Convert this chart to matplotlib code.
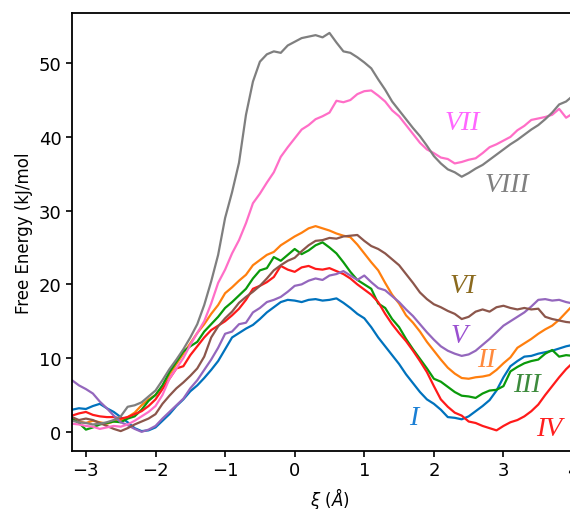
import numpy as np
import matplotlib
matplotlib.use("Agg")
import matplotlib.pyplot as plt

# reaction coordinate grid (Angstrom)
xi = np.round(np.arange(-3.2, 4.21, 0.1), 1)

fe_I = [3.0, 3.2, 3.1, 3.5, 3.8, 3.2, 2.7, 2.0, 1.3, 0.5,
        0.1, 0.2, 0.6, 1.5, 2.4, 3.5, 4.4, 5.5, 6.3, 7.3,
        8.4, 9.6, 11.2, 12.8, 13.4, 14.0, 14.5, 15.3, 16.2, 16.9,
        17.6, 17.9, 17.8, 17.6, 17.9, 18.0, 17.8, 17.9, 18.1, 17.5,
        16.8, 16.0, 15.4, 14.2, 12.8, 11.6, 10.4, 9.2, 7.8, 6.6,
        5.4, 4.4, 3.8, 3.0, 2.0, 1.9, 1.7, 2.1, 2.8, 3.5,
        4.3, 5.6, 7.4, 8.9, 9.6, 10.2, 10.3, 10.6, 10.8, 11.0,
        11.3, 11.6, 11.8, 12.0, 12.1]
fe_II = [1.6, 1.4, 1.2, 1.5, 1.3, 1.1, 1.4, 1.6, 2.0, 2.6,
         3.6, 4.4, 5.0, 6.2, 7.8, 9.2, 10.6, 12.0, 13.4, 14.6,
         16.0, 17.2, 18.8, 19.6, 20.5, 21.3, 22.6, 23.3, 24.0, 24.4,
         25.3, 25.9, 26.5, 27.0, 27.6, 27.9, 27.6, 27.3, 26.9, 26.6,
         26.4, 25.4, 24.2, 23.0, 21.9, 20.2, 18.6, 17.4, 15.8, 14.8,
         13.6, 12.2, 11.0, 9.8, 8.7, 7.9, 7.3, 7.2, 7.4, 7.5,
         7.7, 8.4, 9.3, 10.1, 11.4, 12.0, 12.6, 13.3, 13.9, 14.4,
         15.2, 16.2, 17.2, 17.8, 18.4]
fe_III = [1.8, 1.2, 0.3, 0.6, 1.0, 1.2, 1.4, 1.3, 1.8, 2.1,
          3.0, 4.2, 5.0, 6.3, 8.1, 9.5, 10.9, 11.6, 12.2, 13.6,
          14.6, 15.6, 16.8, 17.6, 18.5, 19.4, 20.8, 21.9, 22.2, 23.7,
          23.2, 24.0, 24.8, 24.1, 24.6, 25.3, 25.7, 25.0, 24.2, 23.0,
          21.7, 20.6, 20.0, 19.4, 17.4, 16.8, 15.3, 14.2, 12.6, 11.2,
          9.9, 8.6, 7.2, 6.8, 6.1, 5.4, 4.9, 4.8, 4.6, 5.2,
          5.6, 5.7, 6.2, 8.2, 8.8, 9.3, 9.6, 9.8, 10.6, 11.1,
          10.2, 10.4, 10.3, 10.6, 10.8]
fe_IV = [2.2, 2.5, 2.7, 2.3, 2.1, 2.0, 2.0, 1.8, 2.0, 2.4,
         2.8, 3.5, 4.4, 5.8, 7.2, 8.6, 8.9, 10.4, 11.6, 12.8,
         13.8, 14.4, 15.0, 15.8, 16.7, 17.9, 19.4, 19.8, 20.3, 21.0,
         22.5, 22.0, 21.7, 22.3, 22.5, 22.1, 22.0, 22.2, 21.8, 21.4,
         20.8, 20.0, 19.3, 18.6, 17.6, 16.0, 14.6, 13.4, 12.3, 11.0,
         9.6, 8.1, 6.2, 4.4, 3.4, 2.6, 2.2, 1.4, 1.2, 0.8,
         0.5, 0.2, 0.8, 1.3, 1.6, 2.1, 2.8, 3.7, 5.0, 6.2,
         7.4, 8.5, 9.4, 10.2, 10.8]
fe_V = [7.0, 6.3, 5.8, 5.2, 4.1, 3.2, 2.2, 1.3, 0.9, 0.4,
        0.0, 0.3, 0.8, 1.8, 2.7, 3.6, 4.5, 5.9, 7.0, 8.4,
        9.8, 11.4, 13.3, 13.6, 14.6, 14.8, 16.2, 16.8, 17.6, 17.9,
        18.3, 19.0, 19.8, 20.0, 20.5, 20.8, 20.6, 21.2, 21.4, 21.8,
        21.2, 20.6, 21.2, 20.3, 19.5, 19.2, 18.4, 17.6, 16.6, 15.7,
        14.6, 13.5, 12.5, 11.6, 11.0, 10.6, 10.3, 10.5, 11.0, 11.8,
        12.6, 13.5, 14.4, 15.0, 15.6, 16.2, 17.0, 17.9, 18.0, 17.8,
        17.9, 17.6, 17.4, 17.6, 17.5]
fe_VI = [2.0, 1.6, 1.8, 1.6, 1.2, 0.8, 0.4, 0.1, 0.5, 1.0,
         1.4, 1.8, 2.4, 3.8, 4.9, 5.9, 6.7, 7.6, 8.6, 10.2,
         12.8, 14.3, 15.4, 16.3, 17.5, 18.3, 19.0, 19.8, 20.8, 21.9,
         22.6, 23.2, 23.6, 24.5, 25.3, 25.9, 26.0, 26.3, 26.2, 26.5,
         26.6, 26.7, 25.9, 25.2, 24.8, 24.2, 23.4, 22.6, 21.4, 20.2,
         18.9, 18.0, 17.3, 16.9, 16.4, 16.0, 15.3, 15.6, 16.3, 16.6,
         16.3, 16.9, 17.1, 16.8, 16.6, 16.8, 16.6, 16.7, 15.6, 15.3,
         15.1, 14.9, 14.8, 14.6, 14.5]
fe_VII = [1.1, 1.0, 0.8, 0.7, 0.4, 0.6, 0.8, 0.7, 1.0, 1.5,
          2.1, 2.7, 3.5, 5.0, 7.2, 8.6, 10.0, 11.8, 13.4, 15.0,
          17.4, 20.2, 22.0, 24.2, 26.0, 28.3, 31.0, 32.3, 33.8, 35.2,
          37.3, 38.6, 39.8, 41.0, 41.6, 42.4, 42.8, 43.3, 44.9, 44.7,
          45.0, 45.8, 46.2, 46.3, 45.6, 44.8, 43.6, 42.8, 41.6, 40.4,
          39.2, 38.3, 37.8, 37.2, 37.0, 36.4, 36.6, 36.9, 37.1, 37.8,
          38.6, 39.0, 39.5, 40.0, 40.9, 41.5, 42.3, 42.5, 42.7, 43.0,
          43.8, 42.6, 43.2, 42.8, 43.0]
fe_VIII = [1.5, 1.3, 1.2, 1.0, 1.1, 1.3, 1.6, 2.1, 3.4, 3.6,
           4.0, 4.8, 5.6, 7.0, 8.5, 9.8, 11.2, 12.8, 14.6, 17.2,
           20.4, 24.0, 29.0, 32.5, 36.5, 43.0, 47.5, 50.2, 51.2, 51.6,
           51.4, 52.4, 52.9, 53.4, 53.6, 53.8, 53.5, 54.1, 52.8, 51.6,
           51.4, 50.8, 50.1, 49.3, 47.8, 46.4, 44.8, 43.6, 42.4, 41.2,
           40.1, 38.8, 37.4, 36.4, 35.6, 35.2, 34.6, 35.1, 35.7, 36.2,
           36.9, 37.6, 38.3, 39.0, 39.6, 40.3, 41.0, 41.6, 42.4, 43.3,
           44.4, 44.8, 45.6, 46.2, 46.8]

names = ["I", "II", "III", "IV", "V", "VI", "VII", "VIII"]
curves = [fe_I, fe_II, fe_III, fe_IV, fe_V, fe_VI, fe_VII, fe_VIII]
line_colors = ["#0072bd", "#ff7f0e", "#0a9a0a", "#ff1a1a",
               "#9467bd", "#8c564b", "#ff6ec7", "#7f7f7f"]
label_colors = ["#1a7fd4", "#ff8a3d", "#3d8b3d", "#ff1f1f",
                "#9a50d0", "#8b6a1e", "#ff66ff", "#808080"]
label_x = [1.71, 2.75, 3.34, 3.66, 2.36, 2.42, 2.41, 3.05]
label_y = [1.9, 9.8, 6.4, 0.5, 13.1, 19.9, 41.9, 33.5]

fig = plt.figure(figsize=(5.7, 5.1), dpi=100)
# axes runs past the right edge, like the cropped original
ax = fig.add_axes([0.1263, 0.1137, 0.9035, 0.8588])

for y, c in zip(curves, line_colors):
    ax.plot(xi, y, color=c, lw=1.6)

for name, c, lx, ly in zip(names, label_colors, label_x, label_y):
    ax.text(lx, ly, name, color=c, fontsize=20, style="italic",
            family="Liberation Serif", ha="center", va="center")

ax.set_xlim(-3.2, 4.2)
ax.set_ylim(-2.6, 56.8)
ax.set_xticks([-3, -2, -1, 0, 1, 2, 3, 4])
ax.set_yticks([0, 10, 20, 30, 40, 50])
ax.tick_params(labelsize=13, width=1.2, length=4)
for s in ax.spines.values():
    s.set_linewidth(1.3)
ax.set_xlabel(r"$\xi\ (\AA)$", fontsize=12)
ax.set_ylabel("Free Energy (kJ/mol", fontsize=12)

fig.savefig("out.png", dpi=100)
